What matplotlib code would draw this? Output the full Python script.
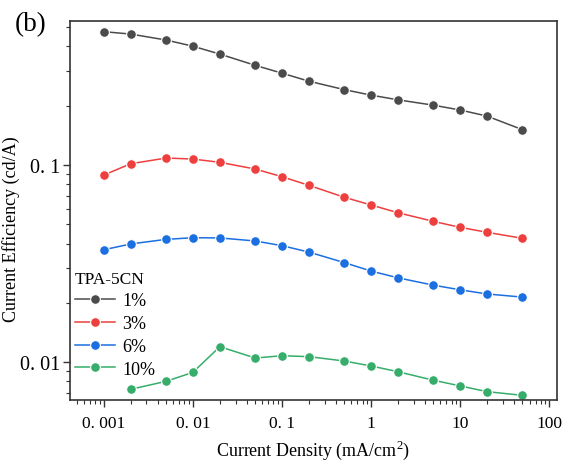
import matplotlib
matplotlib.use("Agg")
import matplotlib.pyplot as plt
from matplotlib.ticker import FixedLocator, FixedFormatter, LogLocator, NullFormatter

plt.rcParams['font.family'] = ['Liberation Serif', 'DejaVu Serif']
plt.rcParams['mathtext.fontset'] = 'custom'
plt.rcParams['mathtext.rm'] = 'Liberation Serif'

current_density = [0.001, 0.002, 0.005, 0.01, 0.02, 0.05, 0.1, 0.2, 0.5, 1, 2, 5, 10, 20, 50]
ce_1 = [0.474, 0.461, 0.430, 0.400, 0.365, 0.320, 0.292, 0.266, 0.241, 0.226, 0.214, 0.201, 0.190, 0.177, 0.151]
ce_3 = [0.0890, 0.1015, 0.1085, 0.1072, 0.1032, 0.0954, 0.0872, 0.0789, 0.0686, 0.0627, 0.0573, 0.0518, 0.0483, 0.0456, 0.0425]
ce_6 = [0.0372, 0.0398, 0.0420, 0.0428, 0.0427, 0.0412, 0.0390, 0.0362, 0.0320, 0.0290, 0.0268, 0.0246, 0.0233, 0.0222, 0.0214]
x_10 = [0.002, 0.005, 0.01, 0.02, 0.05, 0.1, 0.2, 0.5, 1, 2, 5, 10, 20, 50]
ce_10 = [0.00730, 0.00801, 0.00890, 0.0120, 0.01051, 0.01080, 0.01068, 0.01015, 0.00958, 0.00896, 0.00811, 0.00759, 0.00710, 0.00680]

labels = ['1%', '3%', '6%', '10%']
colors = ['#4b4b4b', '#ee3f3f', '#1b6fe0', '#36ad6a']

x_ticks = [0.001, 0.01, 0.1, 1, 10, 100]
x_ticklabels = ['0. 001', '0. 01', '0. 1', '1', '10', '100']
y_ticks = [0.01, 0.1]
y_ticklabels = ['0. 01', '0. 1']

fig = plt.figure(figsize=(5.7, 4.64), dpi=100)
ax = fig.add_axes([70/570, 1-401/464, (557-70)/570, (401-22)/464])

series = [(current_density, ce_1), (current_density, ce_3), (current_density, ce_6), (x_10, ce_10)]
for (xs, ys), lab, c in zip(series, labels, colors):
    ax.plot(xs, ys, '-', color=c, lw=1.1, marker='o', markersize=7,
            markeredgecolor='white', markeredgewidth=0.8, label=lab)

ax.set_xscale('log')
ax.set_yscale('log')
ax.set_xlim(0.000416, 122)
ax.set_ylim(0.00644, 0.537)

ax.xaxis.set_major_locator(FixedLocator(x_ticks))
ax.xaxis.set_major_formatter(FixedFormatter(x_ticklabels))
ax.xaxis.set_minor_locator(LogLocator(base=10, subs=range(2, 10), numticks=20))
ax.xaxis.set_minor_formatter(NullFormatter())
ax.yaxis.set_major_locator(FixedLocator(y_ticks))
ax.yaxis.set_major_formatter(FixedFormatter(y_ticklabels))
ax.yaxis.set_minor_locator(LogLocator(base=10, subs=range(2, 10), numticks=20))
ax.yaxis.set_minor_formatter(NullFormatter())

ax.tick_params(which='major', direction='out', length=5, width=1, color='#333333')
ax.tick_params(which='minor', direction='out', length=3, width=0.8, color='#333333')
ax.tick_params(axis='x', which='major', labelsize=12.5, pad=6)
ax.tick_params(axis='y', which='major', labelsize=14.5, pad=2)
for s in ax.spines.values():
    s.set_color('#333333')
    s.set_linewidth(1.2)

ax.set_xlabel('Current Density (mA/cm$^2$)', fontsize=13, labelpad=5)
ax.set_ylabel('Current Efficiency (cd/A)', fontsize=13)
ax.yaxis.set_label_coords(-0.103, 0.4525)

leg = ax.legend(title='TPA-5CN', loc='lower left', bbox_to_anchor=(-0.012, 0.03),
                frameon=False, fontsize=13, title_fontsize=12.5, handlelength=2.2,
                handletextpad=0.4, labelspacing=0.32, borderaxespad=0.2)
leg._legend_box.align = 'left'

fig.text(15/570, 1-25/464, '(b)', fontsize=19.5, va='center', ha='left')

fig.savefig('out.png', dpi=100)
